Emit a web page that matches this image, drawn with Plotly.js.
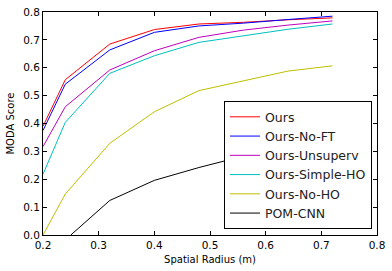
<!DOCTYPE html>
<html>
<head>
<meta charset="utf-8">
<script src="https://cdn.plot.ly/plotly-3.0.1.min.js"></script>
<style>
  html, body { margin: 0; padding: 0; background: #fff; }
  #chart { width: 392px; height: 271px; }
</style>
</head>
<body>
<div id="chart"></div>
<script>
// spatial radius values (m)
const radius = [0.2, 0.24, 0.32, 0.4, 0.48, 0.56, 0.64, 0.72];
const radiusPom = [0.25, 0.32, 0.4, 0.48, 0.56, 0.64, 0.72];

// MODA scores
const ours         = [0.39, 0.557, 0.685, 0.737, 0.757, 0.763, 0.772, 0.779];
const oursNoFT     = [0.375, 0.541, 0.664, 0.727, 0.750, 0.760, 0.773, 0.785];
const oursUnsuperv = [0.317, 0.46, 0.592, 0.661, 0.709, 0.735, 0.753, 0.768];
const oursSimpleHO = [0.218, 0.404, 0.58, 0.643, 0.691, 0.714, 0.738, 0.757];
const oursNoHO     = [0.0, 0.147, 0.329, 0.442, 0.518, 0.553, 0.588, 0.607];
const pomCnn       = [0.0, 0.124, 0.196, 0.242, 0.283, 0.31, 0.33];

const xTicks = [0.2, 0.3, 0.4, 0.5, 0.6, 0.7, 0.8];
const yTicks = [0.0, 0.1, 0.2, 0.3, 0.4, 0.5, 0.6, 0.7, 0.8];

function series(name, x, y, color) {
  return {
    x: x, y: y, name: name,
    type: 'scatter', mode: 'lines',
    line: { color: color, width: 1 }
  };
}

const traces = [
  series('Ours', radius, ours, '#ff0000'),
  series('Ours-No-FT', radius, oursNoFT, '#0000ff'),
  series('Ours-Unsuperv', radius, oursUnsuperv, '#bf00bf'),
  series('Ours-Simple-HO', radius, oursSimpleHO, '#00bfbf'),
  series('Ours-No-HO', radius, oursNoHO, '#bfbf00'),
  series('POM-CNN', radiusPom, pomCnn, '#000000')
];

const axisBase = {
  showgrid: false,
  zeroline: false,
  showline: true,
  linecolor: '#000',
  linewidth: 1,
  mirror: 'ticks',
  ticks: 'inside',
  ticklen: 4,
  tickcolor: '#000',
  tickfont: { family: 'DejaVu Sans', size: 10.5, color: '#000' }
};

const layout = {
  width: 392,
  height: 271,
  margin: { l: 42.5, r: 15, t: 12, b: 36 },
  paper_bgcolor: '#fff',
  plot_bgcolor: '#fff',
  font: { family: 'DejaVu Sans', color: '#000' },
  showlegend: true,
  xaxis: Object.assign({}, axisBase, {
    range: [0.2, 0.8],
    tickvals: xTicks,
    ticktext: xTicks.map(v => v.toFixed(1)),
    title: { text: 'Spatial Radius (m)', font: { family: 'DejaVu Sans', size: 10 }, standoff: 6 }
  }),
  yaxis: Object.assign({}, axisBase, {
    range: [0, 0.8],
    tickvals: yTicks,
    ticktext: yTicks.map(v => v.toFixed(1)),
    title: { text: 'MODA Score', font: { family: 'DejaVu Sans', size: 10 }, standoff: 6 }
  }),
  legend: {
    x: 0.985, y: 0.026,
    xanchor: 'right', yanchor: 'bottom',
    bgcolor: '#fff',
    bordercolor: '#000',
    borderwidth: 1,
    font: { family: 'DejaVu Sans', size: 12.5, color: '#222' },
    tracegroupgap: 0,
    itemwidth: 30
  }
};

Plotly.newPlot('chart', traces, layout, { displayModeBar: false, staticPlot: true });
</script>
</body>
</html>
